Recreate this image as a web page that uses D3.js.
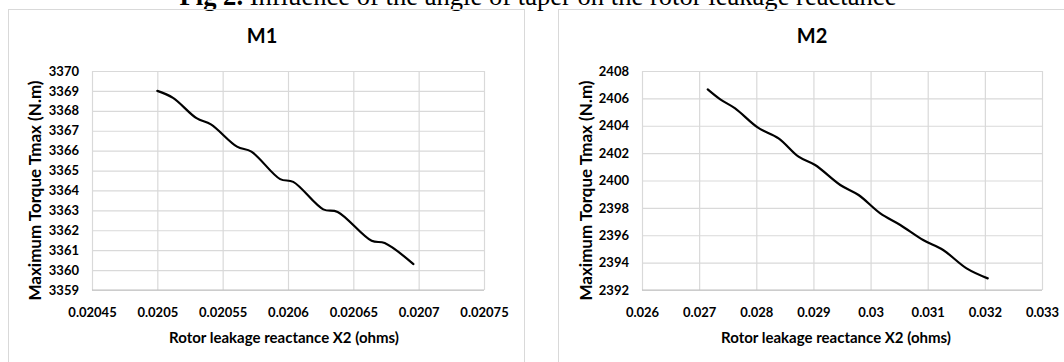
<!DOCTYPE html>
<html>
<head>
<meta charset="utf-8">
<script src="https://cdn.jsdelivr.net/npm/d3@7"></script>
<style>
  body { margin: 0; background: #fff; }
  svg { display: block; }
  .tick text { font-family: Lato, sans-serif; font-weight: bold; fill: #000; }
</style>
</head>
<body>
<svg id="fig" width="1064" height="362"></svg>
<script>
// caption
const captionBold = "Fig 2.";
const captionRest = " Influence of the angle of taper on the rotor leakage reactance";

// M1
const m1Title = "M1";
const m1X = [0.020500, 0.020512, 0.020530, 0.020541, 0.020561, 0.020572, 0.020594, 0.020604, 0.020627, 0.020638, 0.020664, 0.020674, 0.020696];
const m1Y = [3369.0, 3368.65, 3367.63, 3367.32, 3366.2, 3365.95, 3364.57, 3364.43, 3363.05, 3362.92, 3361.47, 3361.36, 3360.3];
const m1XTicks = [0.02045, 0.0205, 0.02055, 0.0206, 0.02065, 0.0207, 0.02075];
const m1XLabels = ["0.02045", "0.0205", "0.02055", "0.0206", "0.02065", "0.0207", "0.02075"];
const m1YTicks = [3359, 3360, 3361, 3362, 3363, 3364, 3365, 3366, 3367, 3368, 3369, 3370];

// M2
const m2Title = "M2";
const m2X = [0.02715, 0.02737, 0.02763, 0.02803, 0.02839, 0.02874, 0.02903, 0.02947, 0.02979, 0.03017, 0.03052, 0.03092, 0.03127, 0.03168, 0.03205];
const m2Y = [2406.66, 2405.93, 2405.27, 2403.86, 2403.08, 2401.74, 2401.13, 2399.67, 2398.94, 2397.6, 2396.75, 2395.65, 2394.92, 2393.58, 2392.85];
const m2XTicks = [0.026, 0.027, 0.028, 0.029, 0.03, 0.031, 0.032, 0.033];
const m2XLabels = ["0.026", "0.027", "0.028", "0.029", "0.03", "0.031", "0.032", "0.033"];
const m2YTicks = [2392, 2394, 2396, 2398, 2400, 2402, 2404, 2406, 2408];

const xTitle = "Rotor leakage reactance X2 (ohms)";
const yTitle = "Maximum Torque Tmax (N.m)";

const svg = d3.select("#fig");

// caption at the very top, partly cut off by the page edge
let cap = svg.append("text")
    .attr("x", 538)
    .attr("y", 5)
    .attr("text-anchor", "middle")
    .style("font-family", "'Liberation Serif', serif")
    .style("font-size", "26.6px");
cap.append("tspan").style("font-weight", "bold").text(captionBold);
cap.append("tspan").text(captionRest);

function drawChart(opt) {

    // chart frame
    svg.append("rect")
        .attr("x", opt.frame[0] + 0.5)
        .attr("y", opt.frame[1] + 0.5)
        .attr("width", opt.frame[2])
        .attr("height", opt.frame[3])
        .attr("fill", "none")
        .attr("stroke", "#d9d9d9");

    let xScale = d3.scaleLinear()
        .domain(d3.extent(opt.xTicks))
        .range([opt.left, opt.right]);

    let yScale = d3.scaleLinear()
        .domain(d3.extent(opt.yTicks))
        .range([opt.bottom, opt.top]);

    let w = opt.right - opt.left;
    let h = opt.bottom - opt.top;

    // horizontal grid + y labels
    let yaxis = svg.append("g")
        .attr("transform", "translate(" + opt.left + ",0)")
        .call(d3.axisLeft(yScale).tickValues(opt.yTicks).tickSize(-w).tickPadding(13).tickFormat(d3.format("d")));
    yaxis.select(".domain").remove();
    yaxis.selectAll(".tick line").attr("stroke", "#d9d9d9").attr("stroke-width", 1.2);
    yaxis.selectAll(".tick text").style("font-size", "13px");

    // vertical grid + x labels
    let xaxis = svg.append("g")
        .attr("transform", "translate(0," + opt.bottom + ")")
        .call(d3.axisBottom(xScale).tickValues(opt.xTicks).tickSize(-h).tickPadding(18)
            .tickFormat((d, i) => opt.xLabels[i]));
    xaxis.select(".domain").remove();
    xaxis.selectAll(".tick line").attr("stroke", "#d9d9d9").attr("stroke-width", 1.2);
    xaxis.selectAll(".tick text").style("font-size", "13px");

    // bottom axis line
    svg.append("line")
        .attr("x1", opt.left).attr("x2", opt.right)
        .attr("y1", opt.bottom).attr("y2", opt.bottom)
        .attr("stroke", "#bfbfbf").attr("stroke-width", 1.2);

    let pts = opt.xs.map((x, i) => [x, opt.ys[i]]);

    let line = d3.line()
        .x(d => xScale(d[0]))
        .y(d => yScale(d[1]))
        .curve(d3.curveCatmullRom.alpha(0.5));

    svg.append("path")
        .datum(pts)
        .attr("d", line)
        .attr("fill", "none")
        .attr("stroke", "#000")
        .attr("stroke-width", 2.2)
        .attr("stroke-linecap", "round");

    // chart title
    svg.append("text")
        .attr("x", opt.titleX)
        .attr("y", 43)
        .attr("text-anchor", "middle")
        .style("font-family", "Lato, sans-serif")
        .style("font-weight", "bold")
        .style("font-size", "20px")
        .text(opt.title);

    // axis titles
    svg.append("text")
        .attr("x", opt.xTitleX)
        .attr("y", 343)
        .attr("text-anchor", "middle")
        .style("font-family", "Lato, sans-serif")
        .style("font-weight", "bold")
        .style("font-size", "15px")
        .text(xTitle);

    svg.append("text")
        .attr("transform", "translate(" + opt.yTitleX + ",190.5) rotate(-90)")
        .attr("text-anchor", "middle")
        .style("font-family", "Lato, sans-serif")
        .style("font-weight", "bold")
        .style("font-size", "17px")
        .text(yTitle);
}

drawChart({
    frame: [8, 9, 516, 380],
    left: 92, right: 484, top: 71, bottom: 290,
    xTicks: m1XTicks, xLabels: m1XLabels, yTicks: m1YTicks,
    xs: m1X, ys: m1Y,
    title: m1Title, titleX: 262, xTitleX: 284, yTitleX: 41
});

drawChart({
    frame: [558, 9, 540, 380],
    left: 642, right: 1042, top: 71, bottom: 290,
    xTicks: m2XTicks, xLabels: m2XLabels, yTicks: m2YTicks,
    xs: m2X, ys: m2Y,
    title: m2Title, titleX: 812, xTitleX: 836, yTitleX: 592
});
</script>
</body>
</html>
